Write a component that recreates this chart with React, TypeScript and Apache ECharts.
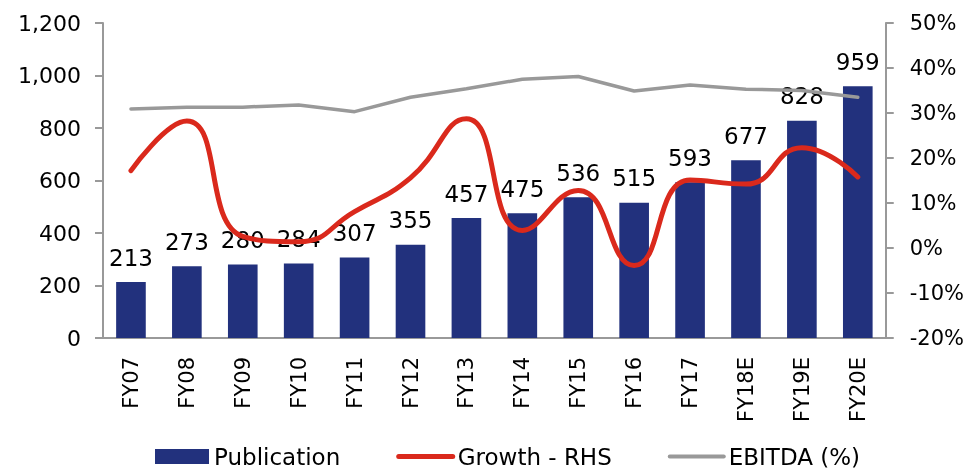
import React, { useEffect, useRef } from "react";
import * as echarts from "echarts";

const categories = ["FY07", "FY08", "FY09", "FY10", "FY11", "FY12", "FY13", "FY14", "FY15", "FY16", "FY17", "FY18E", "FY19E", "FY20E"];
const publication = [213, 273, 280, 284, 307, 355, 457, 475, 536, 515, 593, 677, 828, 959];
const growth = [17.2, 28.2, 2.6, 1.4, 8.1, 15.6, 28.7, 3.9, 12.8, -3.9, 15.1, 14.2, 22.3, 15.8];
const ebitda = [30.9, 31.3, 31.3, 31.8, 30.3, 33.5, 35.4, 37.5, 38.1, 34.9, 36.2, 35.3, 35.0, 33.5];

const FONT = "DejaVu Sans";

export default function App() {
  const ref = useRef<HTMLDivElement>(null);
  useEffect(() => {
    if (!ref.current) return;
    const chart = echarts.init(ref.current, null, { renderer: "svg" });
    chart.setOption({
      animation: false,
      textStyle: { fontFamily: FONT, color: "#000" },
      grid: { left: 103, right: 79, top: 23, bottom: 132 },
      legend: {
        top: 440,
        left: 150,
        itemWidth: 54,
        itemHeight: 15,
        itemGap: 56,
        textStyle: { fontFamily: FONT, fontSize: 23, color: "#000" },
        data: [
          { name: "Publication", icon: "rect" },
          { name: "Growth - RHS", itemStyle: { opacity: 0 }, lineStyle: { width: 5, color: "#DA291C", cap: "round" } },
          { name: "EBITDA (%)", itemStyle: { opacity: 0 }, lineStyle: { width: 4, color: "#999999", cap: "round" } },
        ],
      },
      xAxis: {
        type: "category",
        data: categories,
        axisLine: { lineStyle: { color: "#999", width: 2 } },
        axisTick: { lineStyle: { color: "#999", width: 2 }, length: 8 },
        axisLabel: { rotate: 90, fontSize: 21, color: "#000", margin: 19, fontFamily: FONT },
      },
      yAxis: [
        {
          type: "value",
          min: 0,
          max: 1200,
          interval: 200,
          splitLine: { show: false },
          axisLine: { show: true, lineStyle: { color: "#999", width: 2 } },
          axisTick: { show: true, length: 8, lineStyle: { color: "#999", width: 2 } },
          axisLabel: {
            fontSize: 22,
            color: "#000",
            margin: 22,
            fontFamily: FONT,
            formatter: (v: number) => v.toLocaleString("en-US"),
          },
        },
        {
          type: "value",
          min: -20,
          max: 50,
          interval: 10,
          splitLine: { show: false },
          axisLine: { show: true, lineStyle: { color: "#999", width: 2 } },
          axisTick: { show: true, length: 8, lineStyle: { color: "#999", width: 2 } },
          axisLabel: { fontSize: 21, color: "#000", margin: 24, fontFamily: FONT, formatter: "{value}%" },
        },
      ],
      series: [
        {
          name: "Publication",
          type: "bar",
          data: publication,
          barWidth: "53%",
          itemStyle: { color: "#22317D" },
          label: { show: true, position: "top", distance: 13, fontSize: 23, color: "#000", fontFamily: FONT },
          z: 1,
        },
        {
          name: "Growth - RHS",
          type: "line",
          yAxisIndex: 1,
          data: growth,
          smooth: 0.5,
          symbol: "circle",
          showSymbol: false,
          lineStyle: { color: "#DA291C", width: 5, cap: "round" },
          itemStyle: { color: "#DA291C" },
          z: 3,
        },
        {
          name: "EBITDA (%)",
          type: "line",
          yAxisIndex: 1,
          data: ebitda,
          symbol: "circle",
          showSymbol: false,
          lineStyle: { color: "#999999", width: 3.5, cap: "round" },
          itemStyle: { color: "#999999" },
          z: 2,
        },
      ],
    });
    return () => chart.dispose();
  }, []);
  return <div ref={ref} style={{ position: "fixed", left: 0, top: 0, width: 967, height: 470 }} />;
}
